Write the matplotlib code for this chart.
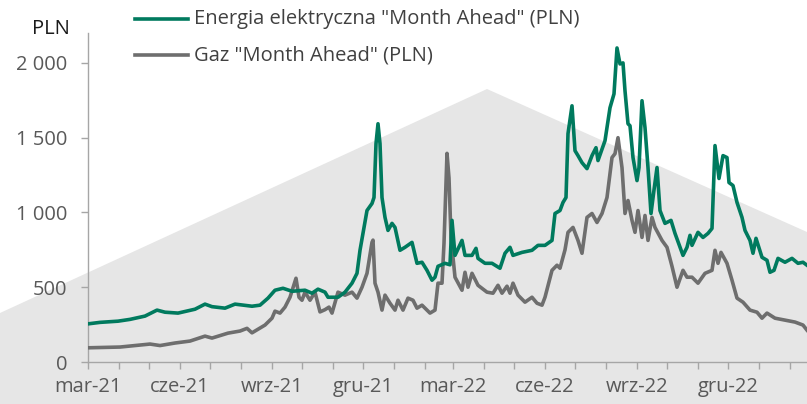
import matplotlib
matplotlib.use("Agg")
import matplotlib.pyplot as plt
import matplotlib.dates as mdates
from matplotlib.patches import Polygon
from matplotlib.lines import Line2D
from matplotlib.ticker import FuncFormatter
import pandas as pd

plt.rcParams['font.family'] = ['Open Sans', 'DejaVu Sans']

# --- data -----------------------------------------------------------------
series_names = ['Energia elektryczna "Month Ahead" (PLN)', 'Gaz "Month Ahead" (PLN)']

power_dates = [
    '2021-03-01', '2021-03-13', '2021-03-31', '2021-04-12', '2021-04-27', '2021-05-09',
    '2021-05-17', '2021-05-30', '2021-06-16', '2021-06-26', '2021-07-03', '2021-07-16',
    '2021-07-26', '2021-08-12', '2021-08-20', '2021-08-28', '2021-09-04', '2021-09-12',
    '2021-09-21', '2021-10-04', '2021-10-11', '2021-10-17', '2021-10-24', '2021-10-27',
    '2021-11-06', '2021-11-13', '2021-11-20', '2021-11-25', '2021-11-28', '2021-12-01',
    '2021-12-05', '2021-12-10', '2021-12-12', '2021-12-14', '2021-12-16', '2021-12-18',
    '2021-12-20', '2021-12-23', '2021-12-26', '2021-12-30', '2022-01-02', '2022-01-07',
    '2022-01-12', '2022-01-19', '2022-01-24', '2022-01-29', '2022-02-03', '2022-02-08',
    '2022-02-11', '2022-02-14', '2022-02-21', '2022-02-26', '2022-02-28', '2022-03-03',
    '2022-03-10', '2022-03-13', '2022-03-20', '2022-03-24', '2022-03-26', '2022-04-02',
    '2022-04-09', '2022-04-17', '2022-04-22', '2022-04-27', '2022-04-30', '2022-05-09',
    '2022-05-19', '2022-05-25', '2022-06-01', '2022-06-08', '2022-06-11', '2022-06-16',
    '2022-06-19', '2022-06-22', '2022-06-24', '2022-06-28', '2022-07-01', '2022-07-04',
    '2022-07-08', '2022-07-13', '2022-07-18', '2022-07-22', '2022-07-24', '2022-07-31',
    '2022-08-05', '2022-08-09', '2022-08-12', '2022-08-15', '2022-08-18', '2022-08-20',
    '2022-08-23', '2022-08-25', '2022-08-28', '2022-09-01', '2022-09-03', '2022-09-06',
    '2022-09-09', '2022-09-12', '2022-09-15', '2022-09-18', '2022-09-21', '2022-09-24',
    '2022-09-29', '2022-10-05', '2022-10-09', '2022-10-14', '2022-10-17', '2022-10-21',
    '2022-10-24', '2022-10-26', '2022-11-01', '2022-11-06', '2022-11-11', '2022-11-15',
    '2022-11-18', '2022-11-22', '2022-11-26', '2022-11-30', '2022-12-02', '2022-12-06',
    '2022-12-10', '2022-12-15', '2022-12-18', '2022-12-23', '2022-12-26', '2022-12-29',
    '2023-01-04', '2023-01-09', '2023-01-12', '2023-01-16', '2023-01-20', '2023-01-27',
    '2023-02-03', '2023-02-09', '2023-02-14', '2023-02-18',
]
power_values = [
    255, 265, 273, 285, 307, 347,
    333, 327, 353, 387, 370, 360,
    387, 373, 380, 427, 480, 493,
    473, 480, 460, 487, 467, 433,
    433, 467, 527, 593, 747, 860,
    1013, 1060, 1100, 1460, 1593, 1460,
    1100, 967, 880, 927, 900, 747,
    767, 800, 660, 667, 613, 547,
    567, 640, 660, 650, 947, 713,
    813, 713, 713, 760, 693, 660,
    660, 627, 727, 767, 713, 733,
    747, 780, 780, 813, 993, 1013,
    1067, 1100, 1527, 1713, 1413, 1380,
    1333, 1293, 1380, 1433, 1347, 1480,
    1700, 1793, 2100, 1993, 2000, 1813,
    1593, 1580, 1367, 1213, 1300, 1747,
    1567, 1300, 993, 1150, 1300, 1013,
    927, 947, 860, 767, 713, 767,
    847, 780, 867, 833, 860, 893,
    1447, 1227, 1380, 1367, 1200, 1180,
    1067, 967, 880, 813, 727, 827,
    700, 680, 600, 613, 693, 667,
    693, 660, 667, 647,
]

gas_dates = [
    '2021-03-01', '2021-03-13', '2021-04-02', '2021-05-02', '2021-05-12', '2021-05-27',
    '2021-06-11', '2021-06-26', '2021-07-03', '2021-07-19', '2021-07-31', '2021-08-07',
    '2021-08-12', '2021-08-25', '2021-09-01', '2021-09-04', '2021-09-09', '2021-09-14',
    '2021-09-19', '2021-09-25', '2021-09-28', '2021-10-01', '2021-10-04', '2021-10-09',
    '2021-10-14', '2021-10-19', '2021-10-24', '2021-10-28', '2021-10-31', '2021-11-06',
    '2021-11-13', '2021-11-20', '2021-11-25', '2021-11-30', '2021-12-05', '2021-12-10',
    '2021-12-11', '2021-12-13', '2021-12-16', '2021-12-20', '2021-12-23', '2021-12-28',
    '2022-01-02', '2022-01-05', '2022-01-10', '2022-01-15', '2022-01-20', '2022-01-24',
    '2022-01-29', '2022-02-03', '2022-02-06', '2022-02-11', '2022-02-14', '2022-02-18',
    '2022-02-20', '2022-02-23', '2022-02-25', '2022-02-27', '2022-03-03', '2022-03-10',
    '2022-03-13', '2022-03-16', '2022-03-20', '2022-03-26', '2022-04-04', '2022-04-10',
    '2022-04-15', '2022-04-19', '2022-04-24', '2022-04-27', '2022-04-30', '2022-05-05',
    '2022-05-12', '2022-05-19', '2022-05-24', '2022-05-29', '2022-06-01', '2022-06-08',
    '2022-06-13', '2022-06-16', '2022-06-21', '2022-06-24', '2022-06-29', '2022-07-04',
    '2022-07-08', '2022-07-13', '2022-07-18', '2022-07-23', '2022-07-28', '2022-08-02',
    '2022-08-07', '2022-08-10', '2022-08-13', '2022-08-17', '2022-08-20', '2022-08-23',
    '2022-08-27', '2022-08-30', '2022-09-02', '2022-09-06', '2022-09-09', '2022-09-12',
    '2022-09-16', '2022-09-19', '2022-09-26', '2022-10-01', '2022-10-06', '2022-10-11',
    '2022-10-17', '2022-10-21', '2022-10-26', '2022-11-01', '2022-11-08', '2022-11-15',
    '2022-11-18', '2022-11-21', '2022-11-24', '2022-11-30', '2022-12-05', '2022-12-10',
    '2022-12-16', '2022-12-23', '2022-12-30', '2023-01-04', '2023-01-09', '2023-01-17',
    '2023-01-27', '2023-02-06', '2023-02-14', '2023-02-18',
]
gas_values = [
    95, 97, 100, 120, 110, 127,
    140, 173, 160, 193, 207, 225,
    195, 247, 293, 340, 327, 367,
    433, 560, 433, 413, 467, 413,
    467, 335, 350, 367, 327, 467,
    447, 467, 427, 500, 593, 800,
    815, 527, 467, 347, 447, 393,
    347, 413, 347, 427, 413, 360,
    380, 347, 327, 347, 527, 527,
    793, 1395, 1230, 833, 567, 480,
    600, 500, 593, 513, 467, 460,
    513, 460, 507, 460, 527, 447,
    400, 433, 393, 380, 433, 613,
    647, 627, 750, 867, 900, 813,
    727, 967, 993, 933, 993, 1100,
    1367, 1393, 1500, 1300, 993, 1080,
    947, 867, 1013, 833, 980, 813,
    967, 900, 813, 767, 640, 500,
    613, 567, 567, 527, 593, 613,
    747, 660, 733, 660, 547, 427,
    400, 347, 333, 293, 327, 293,
    280, 267, 247, 213,
]

month_abbr = ['sty', 'lut', 'mar', 'kwi', 'maj', 'cze',
              'lip', 'sie', 'wrz', 'paź', 'lis', 'gru']
y_ticks = [0, 500, 1000, 1500, 2000]
y_unit = 'PLN'

# --- styling ----------------------------------------------------------------
GREEN = '#007a5e'
GREY = '#6e6e6e'
AXIS = '#a6a6a6'
BACKDROP = '#e6e6e6'
TICK_TXT = '#595959'
LW = 2.6
W, H = 807, 404

fig = plt.figure(figsize=(W / 100, H / 100), dpi=100, facecolor='white')


def fx(px):
    return px / W


def fy(py):
    return 1 - py / H


# decorative backdrop shape behind the plot area
backdrop = Polygon([(fx(0), fy(313)), (fx(487), fy(89)), (fx(807), fy(232)),
                    (fx(807), fy(404)), (fx(0), fy(404))],
                   closed=True, transform=fig.transFigure,
                   facecolor=BACKDROP, edgecolor='none', zorder=-5)
fig.add_artist(backdrop)

ax = fig.add_axes([fx(88), 1 - 362 / H, 1 - fx(88), 329 / H])
ax.patch.set_alpha(0)

pdates = pd.to_datetime(power_dates)
gdates = pd.to_datetime(gas_dates)
ax.plot(gdates, gas_values, color=GREY, lw=LW, solid_joinstyle='round', zorder=3)
ax.plot(pdates, power_values, color=GREEN, lw=LW, solid_joinstyle='round', zorder=4)

ax.set_xlim(pd.Timestamp('2021-03-01'), pd.Timestamp('2023-02-18'))
ax.set_ylim(0, 2200)

ax.set_yticks(y_ticks)
ax.yaxis.set_major_formatter(FuncFormatter(lambda v, p: f'{int(v):,}'.replace(',', ' ')))

ax.xaxis.set_major_locator(mdates.MonthLocator(bymonth=[3, 6, 9, 12]))
ax.xaxis.set_minor_locator(mdates.MonthLocator())
ax.xaxis.set_major_formatter(FuncFormatter(
    lambda v, p: f"{month_abbr[mdates.num2date(v).month - 1]}-{mdates.num2date(v).year % 100:02d}"))

for side in ('top', 'right'):
    ax.spines[side].set_visible(False)
for side in ('left', 'bottom'):
    ax.spines[side].set_color(AXIS)
    ax.spines[side].set_linewidth(1.0)

ax.tick_params(axis='both', which='both', color=AXIS, width=1.0, length=5,
               direction='out', labelcolor=TICK_TXT, labelsize=14.5)
ax.tick_params(axis='y', pad=10)
ax.tick_params(axis='x', pad=6)

fig.text(fx(70), fy(29), y_unit, ha='right', va='center', fontsize=14.5, color='#1a1a1a')

# legend drawn in figure coordinates
for (py, col, name) in [(19, GREEN, series_names[0]), (55, GREY, series_names[1])]:
    fig.add_artist(Line2D([fx(135), fx(188)], [fy(py), fy(py)], color=col, lw=LW,
                          transform=fig.transFigure))
    fig.text(fx(194), fy(py), name, ha='left', va='center', fontsize=14.5, color='#404040')

fig.savefig('out.png', dpi=100, facecolor='white')
